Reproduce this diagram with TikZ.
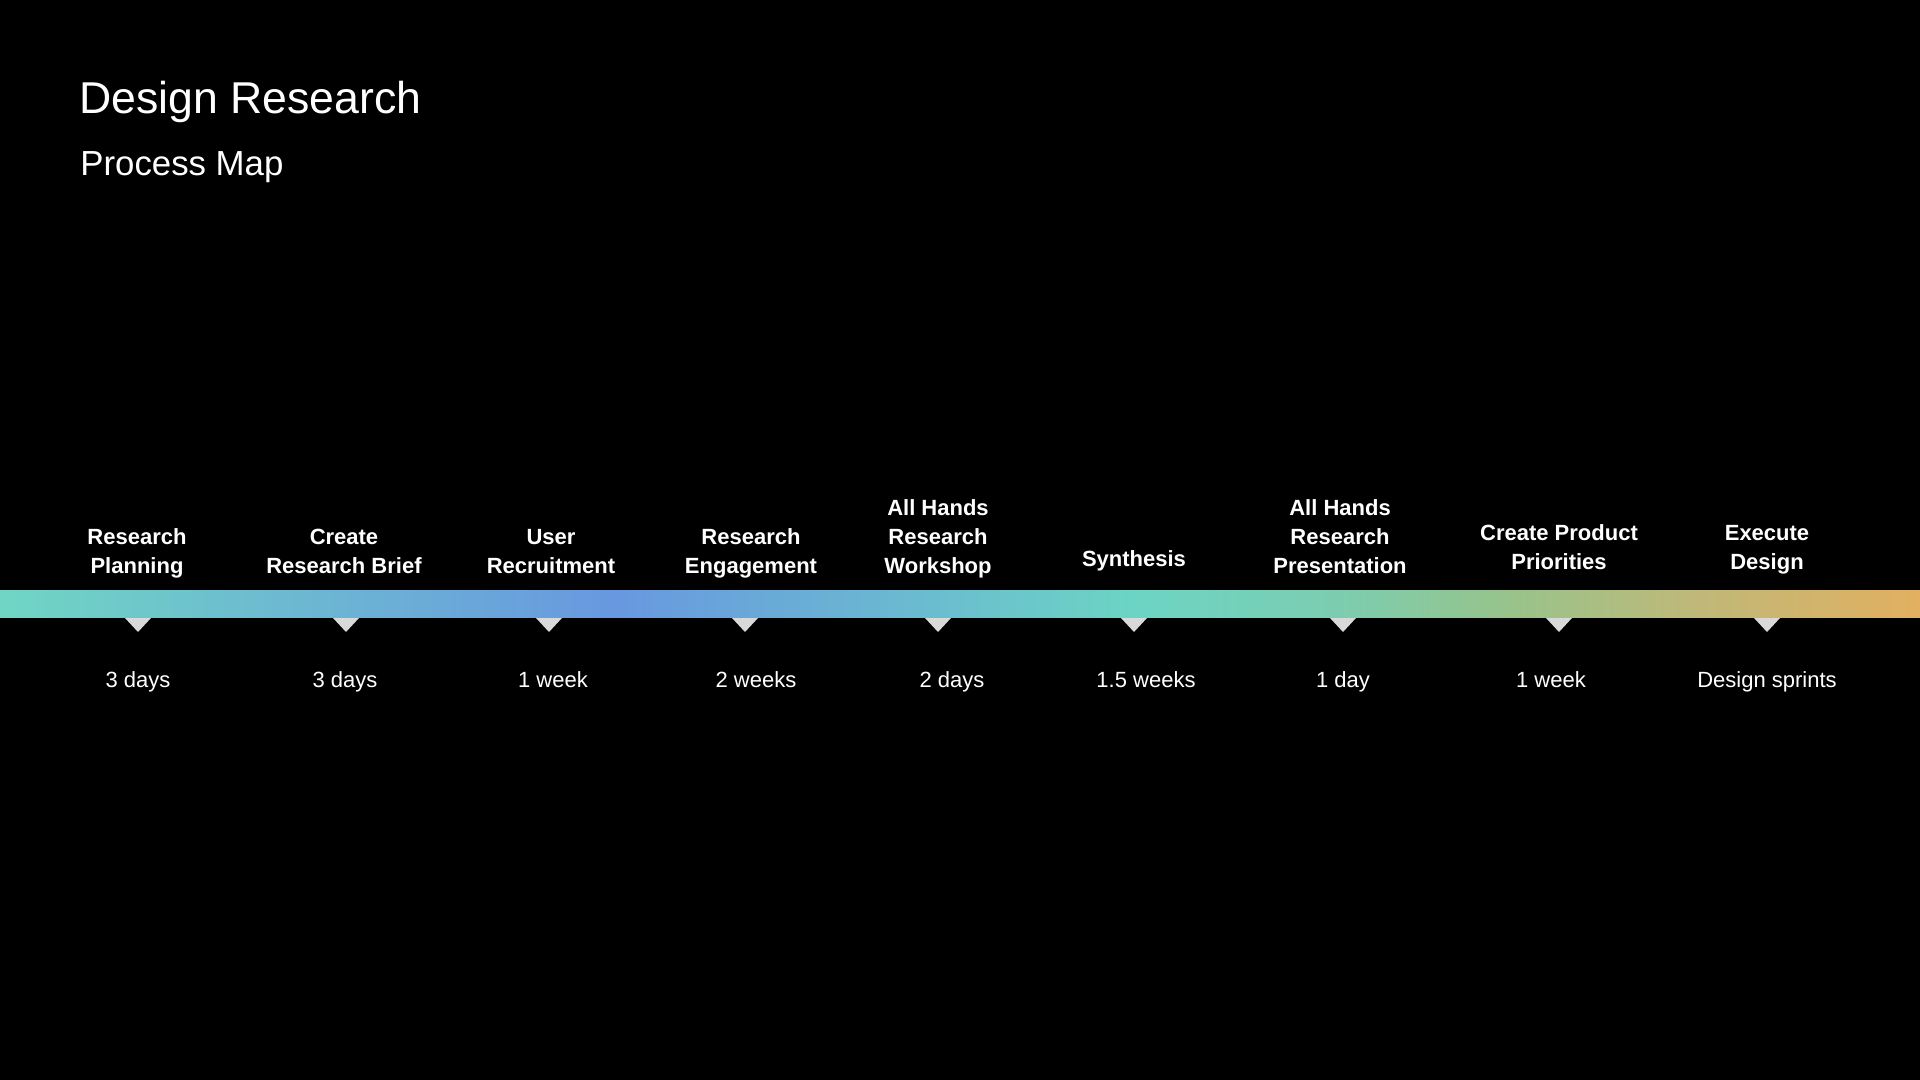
\documentclass[tikz,border=0pt]{standalone}
\usepackage{fontspec}
\setmainfont{Liberation Sans}

\definecolor{barteal}{HTML}{70D6C4}
\definecolor{barblue}{HTML}{6898E0}
\definecolor{barmint}{HTML}{6CD4C4}
\definecolor{bargreen}{HTML}{7CCDB0}
\definecolor{barsage}{HTML}{96C48C}
\definecolor{barolive}{HTML}{C0B878}
\definecolor{barorange}{HTML}{E2B060}
\definecolor{markgray}{HTML}{D9D9D9}

\newcommand{\stagelines}[1]{\begin{tabular}[b]{@{}c@{}}#1\end{tabular}}

\begin{document}
\begin{tikzpicture}[x=0.5pt, y=-0.5pt,
    stagelabel/.style={anchor=base, inner sep=0pt, text=white,
        font=\fontsize{11pt}{14.3pt}\selectfont\bfseries},
    duration/.style={anchor=base, inner sep=0pt, text=white,
        font=\fontsize{11pt}{13pt}\selectfont},
    marker/.style={fill=markgray}]

    % --- background ---
    \useasboundingbox (0,0) rectangle (1920,1080);
    \fill[black] (0,0) rectangle (1920,1080);

    % --- title ---
    \node[anchor=base west, inner sep=0pt, text=white,
        font=\fontsize{22.3pt}{26pt}\selectfont] (title) at (79,114) {Design Research};
    \node[anchor=base west, inner sep=0pt, text=white,
        font=\fontsize{17.4pt}{21pt}\selectfont] (subtitle) at (80,176) {Process Map};

    % --- gradient bar ---
    \foreach \xa/\xb/\ca/\cb in {0/615/barteal/barblue, 615/1132/barblue/barmint,
        1132/1340/barmint/bargreen, 1340/1500/bargreen/barsage,
        1500/1700/barsage/barolive, 1700/1920/barolive/barorange} {
        \shade[left color=\ca, right color=\cb] (\xa,590) rectangle (\xb+0.5,617);
    }

    % --- stages: label, marker, duration ---
    \foreach \lx/\ly/\stage/\tx/\dx/\dur [count=\i] in {
        137/573/{Research\\Planning}/138/138/3 days,
        344/573/{Create\\Research Brief}/346/345/3 days,
        551/573/{User\\Recruitment}/549/553/1 week,
        751/573/{Research\\Engagement}/745/756/2 weeks,
        938/573/{All Hands\\Research\\Workshop}/938/952/2 days,
        1134/566/{Synthesis}/1134/1146/1.5 weeks,
        1340/573/{All Hands\\Research\\Presentation}/1343/1343/1 day,
        1559/569/{Create Product\\Priorities}/1559/1551/1 week,
        1767/569/{Execute\\Design}/1767/1767/Design sprints} {
        \node[stagelabel] (stage\i) at (\lx,\ly) {\stagelines{\stage}};
        \fill[marker] (\tx-13,618) -- (\tx+13,618) -- (\tx,632) -- cycle;
        \node[duration] (dur\i) at (\dx,687) {\dur};
    }

\end{tikzpicture}
\end{document}
